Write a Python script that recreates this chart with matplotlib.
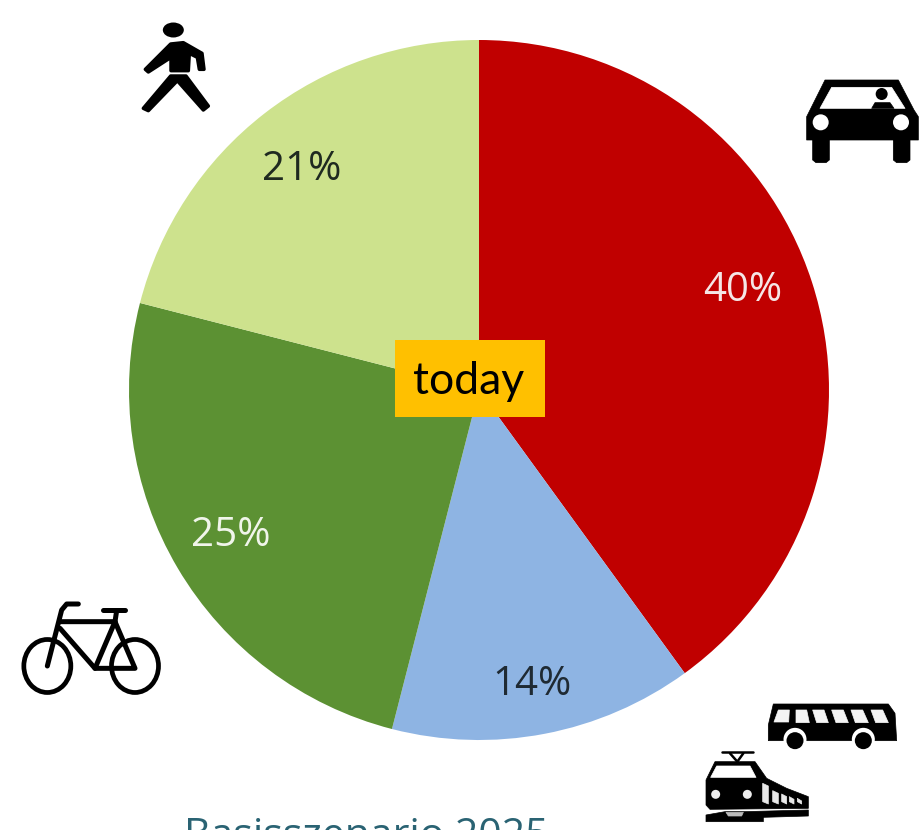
# -*- coding: UTF-8 -*-
import matplotlib
matplotlib.use('Agg')
import matplotlib.pyplot as plt
from matplotlib.patches import Circle, Ellipse, Polygon, Rectangle

W, H = 924, 830

shares = [40, 14, 25, 21]
labels = ['40%', '14%', '25%', '21%']
colors = ['#C00000', '#8EB4E3', '#5C9133', '#CDE28D']
label_colors = ['#F5E6E6', '#1F2A33', '#F0F5EA', '#1F2A20']
label_px = [(743, 291), (532, 685), (231, 536), (302, 170)]


def px(x, y):
	return x, H - y  # pixel from the top -> axes coordinates


def poly(ax, pts, ox, oy, color='black', z=5, lw=0.5):
	xy = [px(ox + a / 3.0, oy + b / 3.0) for a, b in pts]
	ax.add_patch(Polygon(xy, closed=True, fc=color, ec=color, lw=lw, joinstyle='round', zorder=z))


def line(ax, pts, ox, oy, lw=3.6, z=5):
	xs = [ox + a / 3.0 for a, b in pts]
	ys = [H - (oy + b / 3.0) for a, b in pts]
	ax.plot(xs, ys, color='black', lw=lw, solid_capstyle='round', solid_joinstyle='round', zorder=z)


def circle(ax, x, y, r, fc='black', ec='none', lw=0, z=6):
	ax.add_patch(Circle(px(x, y), r, fc=fc, ec=ec, lw=lw, zorder=z))


def draw_car(ax):
	ox, oy = 790, 60
	poly(ax, [(105, 60), (325, 60), (372, 150), (385, 170), (385, 240), (50, 240), (50, 170), (60, 150)], ox, oy)
	poly(ax, [(125, 82), (305, 82), (345, 145), (90, 145)], ox, oy, color='white', z=6)
	poly(ax, [(245, 145), (255, 128), (300, 128), (312, 145)], ox, oy, z=7)
	circle(ax, ox + 275 / 3, oy + 102 / 3, 6, z=7)
	circle(ax, ox + 92 / 3, oy + 187 / 3, 8, fc='white', z=7)
	circle(ax, ox + 333 / 3, oy + 187 / 3, 8, fc='white', z=7)
	poly(ax, [(68, 240), (118, 240), (118, 300), (108, 308), (78, 308), (68, 300)], ox, oy)
	poly(ax, [(310, 240), (360, 240), (360, 300), (350, 308), (320, 308), (310, 300)], ox, oy)


def draw_walker(ax):
	ox, oy = 120, 10
	ax.add_patch(Ellipse(px(ox + 160 / 3, oy + 60 / 3), 21, 15, fc='black', zorder=5))
	poly(ax, [(152, 102), (190, 98), (246, 130), (252, 178), (238, 178), (232, 142), (208, 130),
		(205, 182), (153, 182), (153, 142), (85, 186), (76, 178)], ox, oy, lw=2.5)
	poly(ax, [(152, 198), (198, 198), (265, 288), (250, 300), (172, 212), (85, 302), (70, 295)], ox, oy, lw=2.5)


def draw_bike(ax):
	ox, oy = 10, 590
	for wx in (112, 375):
		ax.add_patch(Ellipse(px(ox + wx / 3, oy + 228 / 3), 47, 53, fc='none', ec='black', lw=3.4, zorder=6))
	line(ax, [(205, 42), (170, 42), (155, 60), (112, 228)], ox, oy)
	line(ax, [(150, 95), (315, 95), (375, 235), (255, 235), (150, 115)], ox, oy)
	line(ax, [(315, 95), (255, 235)], ox, oy)
	line(ax, [(280, 60), (345, 60)], ox, oy)
	line(ax, [(320, 62), (315, 95)], ox, oy)


def draw_bus(ax):
	ox, oy = 700, 680
	poly(ax, [(220, 72), (565, 72), (585, 100), (590, 182), (205, 182), (205, 135)], ox, oy)
	# windows lean slightly, left to right
	windows = [[(235, 90), (268, 90), (266, 126), (222, 126)],
		[(288, 90), (320, 90), (328, 128), (288, 128)],
		[(338, 90), (372, 90), (385, 128), (350, 128)],
		[(395, 90), (430, 90), (445, 128), (408, 128)],
		[(453, 90), (488, 90), (505, 128), (466, 128)],
		[(513, 90), (548, 90), (565, 128), (527, 128)]]
	for w in windows:
		poly(ax, w, ox, oy, color='#F4F4F4', z=6)
	for wx in (285, 490):
		circle(ax, ox + wx / 3, oy + 178 / 3, 11.5, fc='white', z=6)
		circle(ax, ox + wx / 3, oy + 182 / 3, 8.5, z=7)


def draw_train(ax):
	ox, oy = 700, 680
	poly(ax, [(45, 245), (165, 245), (200, 295), (260, 325), (325, 350), (325, 385), (30, 388),
		(18, 375), (18, 300)], ox, oy)
	poly(ax, [(50, 258), (150, 258), (168, 292), (32, 292)], ox, oy, color='white', z=6)
	circle(ax, ox + 47 / 3, oy + 343 / 3, 4.5, fc='#EEEEEE')
	circle(ax, ox + 142 / 3, oy + 343 / 3, 4.5, fc='#EEEEEE')
	for a, b, t in [(188, 205, 310), (218, 235, 332), (245, 260, 342), (268, 282, 350), (292, 305, 355)]:
		poly(ax, [(a, t), (b, t + 8), (b, 372), (a, 365)], ox, oy, color='#E8E8E8', z=6)
	line(ax, [(65, 217), (158, 217)], ox, oy, lw=1.8)
	line(ax, [(90, 220), (112, 245), (130, 220)], ox, oy, lw=1.8)
	poly(ax, [(18, 405), (75, 395), (130, 395), (325, 390), (325, 408), (190, 412), (190, 425), (18, 425)], ox, oy)
	poly(ax, [(78, 397), (130, 397), (125, 408), (85, 408)], ox, oy, color='#BBBBBB', z=6)


fig = plt.figure(figsize=(W / 100.0, H / 100.0), dpi=100)
ax = fig.add_axes([0, 0, 1, 1])

ax.pie(shares, colors=colors, startangle=90, counterclock=False, center=px(479, 390), radius=350,
	frame=True, wedgeprops={'linewidth': 0})
ax.set_xlim(0, W)
ax.set_ylim(0, H)
ax.set_aspect('equal')
ax.axis('off')

for txt, col, pos in zip(labels, label_colors, label_px):
	x, y = px(*pos)
	ax.text(x, y, txt, color=col, fontsize=29, family='Open Sans', ha='center', va='center', zorder=4)

ax.add_patch(Rectangle(px(395, 417), 150, 77, fc='#FFC000', ec='none', zorder=3))
tx, ty = px(469, 382)
ax.text(tx, ty, 'today', color='black', fontsize=32, family='Lato', ha='center', va='center', zorder=4)

# the picture cuts this caption at the bottom edge
bx, by = px(366, 847)
ax.text(bx, by, 'Basisszenario 2025', color='#2A6373', fontsize=29.5, family='Open Sans',
	ha='center', va='baseline', clip_on=False)

draw_car(ax)
draw_walker(ax)
draw_bike(ax)
draw_bus(ax)
draw_train(ax)

fig.savefig('out.png', dpi=100)
